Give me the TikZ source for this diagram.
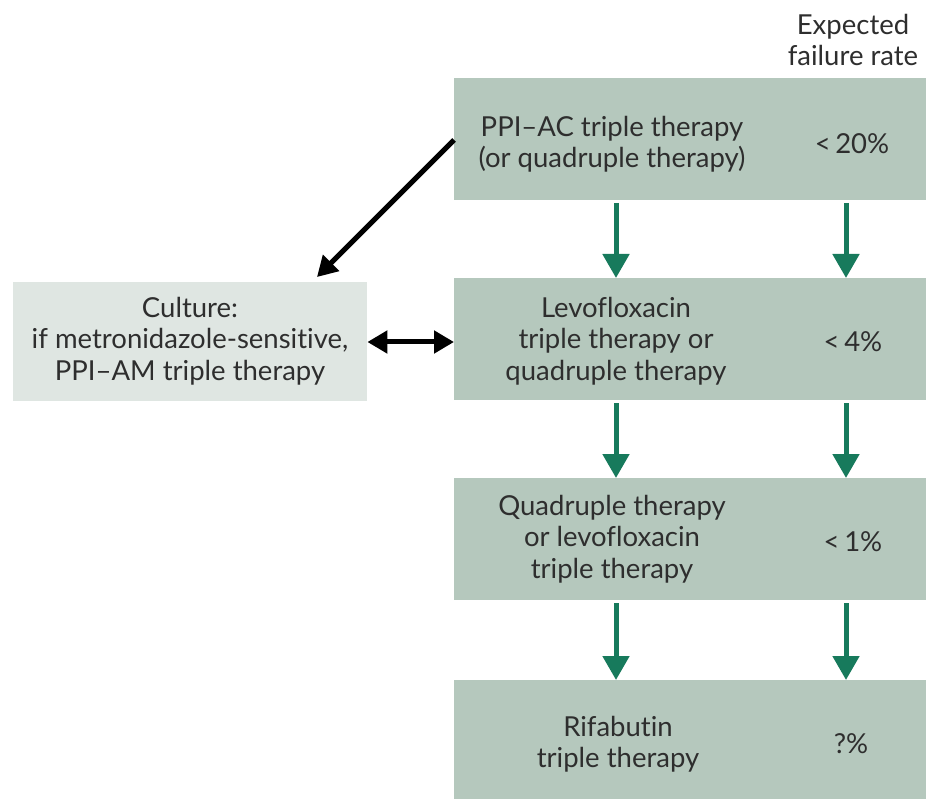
\documentclass[tikz,border=0pt]{standalone}
\usepackage{fontspec}
\setmainfont[Ligatures={NoCommon}]{Lato}
\usetikzlibrary{arrows.meta}
\definecolor{boxgreen}{HTML}{B5C8BD}
\definecolor{boxlight}{HTML}{DFE6E2}
\definecolor{arrgreen}{HTML}{177A5C}
\definecolor{txt}{HTML}{2E2E2E}
\tikzset{
  mainbox/.style={fill=boxgreen, draw=none, minimum width=472pt, minimum height=122pt, inner sep=0pt},
  sidebox/.style={fill=boxlight, draw=none, minimum width=354pt, minimum height=119pt, inner sep=0pt},
  lbl/.style={text=txt, align=center, font=\fontsize{27.5}{31.5}\selectfont, inner sep=0pt},
  garrow/.style={draw=arrgreen, line width=5pt, -{Triangle[width=26pt,length=24pt]}},
  barrow/.style={draw=black, line width=5pt, -{Triangle[width=22pt,length=20pt]}},
  dbarrow/.style={draw=black, line width=5pt, {Triangle[width=22pt,length=20pt]}-{Triangle[width=22pt,length=20pt]}}
}
\begin{document}
\begin{tikzpicture}[x=1pt,y=-1pt]
\useasboundingbox (0,0) rectangle (926,799);
\fill[white] (0,0) rectangle (926,799);
% boxes
\node[mainbox, anchor=north west] (b1) at (454,78) {};
\node[mainbox, anchor=north west] (b2) at (454,278) {};
\node[mainbox, anchor=north west] (b3) at (454,478) {};
\node[mainbox, anchor=north west, minimum height=119pt] (b4) at (454,680) {};
\node[sidebox, anchor=north west] (c) at (13,282) {};
% header
\node[lbl] (hdr) at (853,40) {Expected\\failure rate};
% texts
\node[lbl] (t1) at (612,144) {PPI--AC triple therapy\\(or quadruple therapy)};
\node[lbl] (p1) at (852,144) {<\,20\%};
\node[lbl] (t2) at (616,341) {Levofloxacin\\triple therapy or\\quadruple therapy};
\node[lbl] (p2) at (853,342) {<\,4\%};
\node[lbl] (t3) at (612,539) {Quadruple therapy\\or levofloxacin\\triple therapy};
\node[lbl] (p3) at (853,542) {<\,1\%};
\node[lbl] (t4) at (618,744) {Rifabutin\\triple therapy};
\node[lbl] (p4) at (851,744) {?\%};
\node[lbl] (ct) at (190,341) {Culture:\\if metronidazole-sensitive,\\PPI--AM triple therapy};
% coordinates for arrows
\coordinate (a1s) at (616,203); \coordinate (a1e) at (616,278);
\coordinate (r1s) at (846,203); \coordinate (r1e) at (846,278);
\coordinate (a2s) at (616,403); \coordinate (a2e) at (616,478);
\coordinate (r2s) at (846,403); \coordinate (r2e) at (846,478);
\coordinate (a3s) at (616,603); \coordinate (a3e) at (616,680);
\coordinate (r3s) at (846,603); \coordinate (r3e) at (846,680);
\draw[garrow] (a1s) -- (a1e);
\draw[garrow] (r1s) -- (r1e);
\draw[garrow] (a2s) -- (a2e);
\draw[garrow] (r2s) -- (r2e);
\draw[garrow] (a3s) -- (a3e);
\draw[garrow] (r3s) -- (r3e);
% black arrows
\coordinate (ds) at (454,140); \coordinate (de) at (317,277);
\draw[barrow] (ds) -- (de);
\draw[dbarrow] (c.east |- 0,342) -- (b2.west |- 0,342);
\end{tikzpicture}
\end{document}
